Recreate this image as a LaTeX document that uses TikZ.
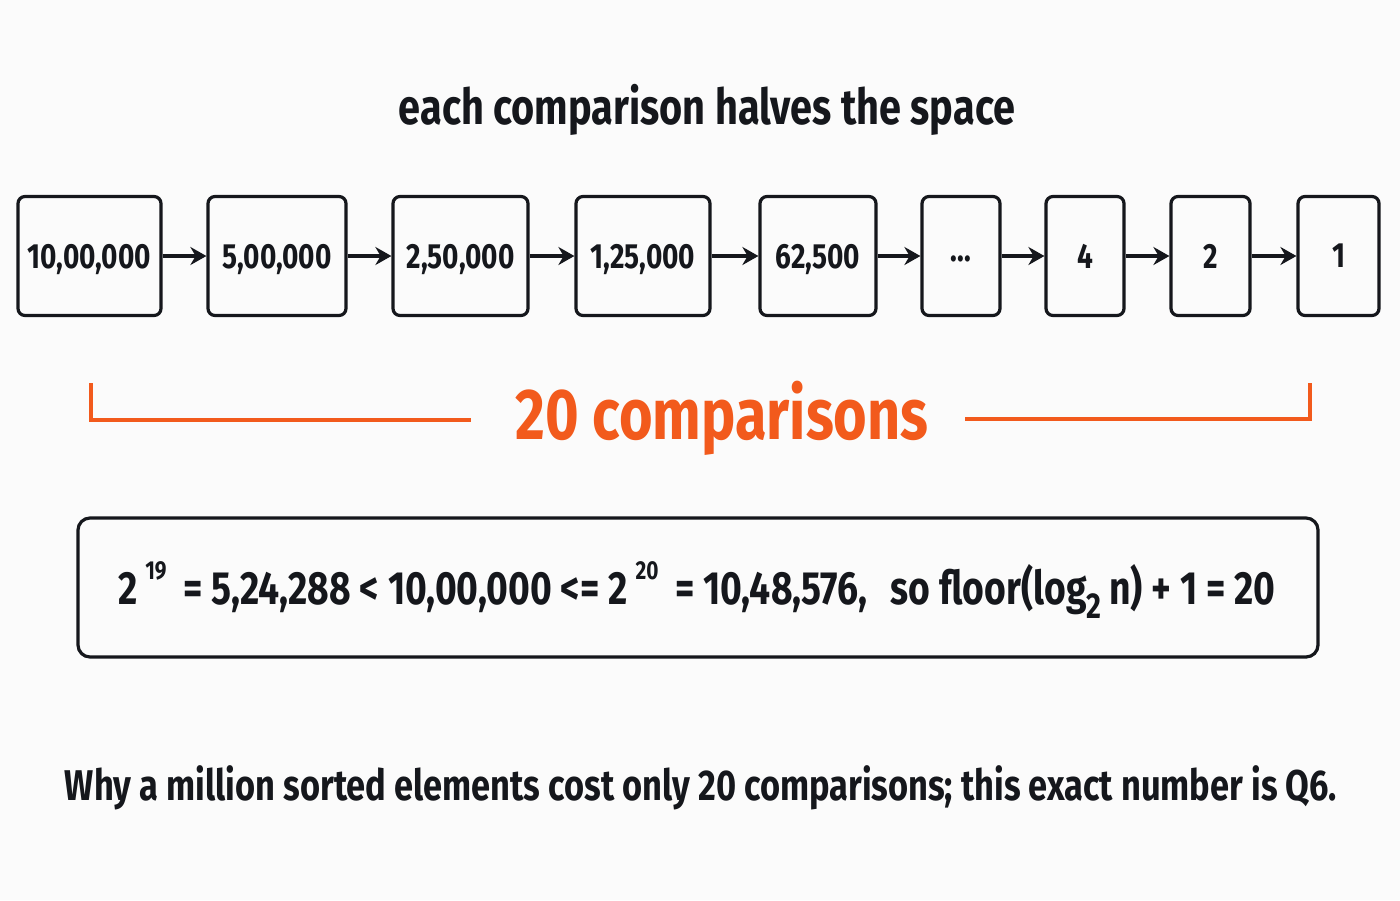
\documentclass[tikz,border=0pt]{standalone}
\usepackage{fontspec}
\setmainfont{Fira Sans}[FakeStretch=0.8]
\usetikzlibrary{arrows.meta}
\definecolor{ink}{HTML}{15171C}
\definecolor{accent}{HTML}{F25A1C}
\definecolor{bg}{HTML}{FBFBFB}
\begin{document}
\begin{tikzpicture}[x=0.5pt,y=-0.5pt,
  box/.style={draw=ink, line width=1.6pt, rounded corners=3.5pt, minimum height=59.5pt,
    inner sep=0pt, text depth=0pt, text=ink, font=\bfseries\fontsize{17.5}{21}\selectfont},
  arr/.style={draw=ink, line width=1.6pt, -{Stealth[length=8pt,width=9pt]}},
  bracket/.style={draw=accent, line width=1.6pt},
  txt/.style={text=ink, inner sep=0pt}]
\fill[bg] (0,0) rectangle (1400,900);
\useasboundingbox (0,0) rectangle (1400,900);

\node[txt, font=\bfseries\fontsize{24.8}{30}\selectfont] (title) at (707,110) {each comparison halves the space};

\node[box, minimum width=143*0.5pt] (b1) at (89.5,256) {10,00,000};
\node[box, minimum width=138*0.5pt] (b2) at (277,256) {5,00,000};
\node[box, minimum width=135*0.5pt] (b3) at (460.5,256) {2,50,000};
\node[box, minimum width=134*0.5pt] (b4) at (643,256) {1,25,000};
\node[box, minimum width=116*0.5pt] (b5) at (818,256) {62,500};
\node[box, minimum width=78*0.5pt] (b6) at (961,256) {\raisebox{-0.15em}{...}};
\node[box, minimum width=78*0.5pt] (b7) at (1085,256) {4};
\node[box, minimum width=79*0.5pt] (b8) at (1210.5,256) {2};
\node[box, minimum width=81*0.5pt] (b9) at (1338.5,256) {1};
\foreach \a/\b in {b1/b2,b2/b3,b3/b4,b4/b5,b5/b6,b6/b7,b7/b8,b8/b9}
  \draw[arr] (\a.east) -- (\b.west);

\node[inner sep=0pt, text=accent, font=\bfseries\fontsize{36}{42}\selectfont] (cmp) at (722,418) {20 comparisons};
\coordinate (l1) at (91,383);
\coordinate (l2) at (471,420);
\coordinate (r1) at (965,419);
\coordinate (r2) at (1310,383);
\draw[bracket] (l1) |- (l2);
\draw[bracket] (r1) -| (r2);

\node[draw=ink, line width=1.6pt, rounded corners=6pt, minimum width=1240*0.5pt, minimum height=139*0.5pt, inner sep=0pt] (fbox) at (698,587.5) {};
\node[txt, font=\bfseries\fontsize{23.3}{28}\selectfont] (formula) at (697,590)
  {2\,\raisebox{0.55em}{\fontsize{13}{15}\selectfont 19}\, = 5,24,288 < 10,00,000 <= 2\,\raisebox{0.55em}{\fontsize{13}{15}\selectfont 20}\, = 10,48,576,\enspace so floor(log\raisebox{-0.3em}{\fontsize{18}{20}\selectfont 2}\,n) + 1 = 20};

\node[txt, font=\bfseries\fontsize{21.5}{26}\selectfont] (caption) at (701,788)
  {Why a million sorted elements cost only 20 comparisons; this exact number is Q6.};
\end{tikzpicture}
\end{document}
